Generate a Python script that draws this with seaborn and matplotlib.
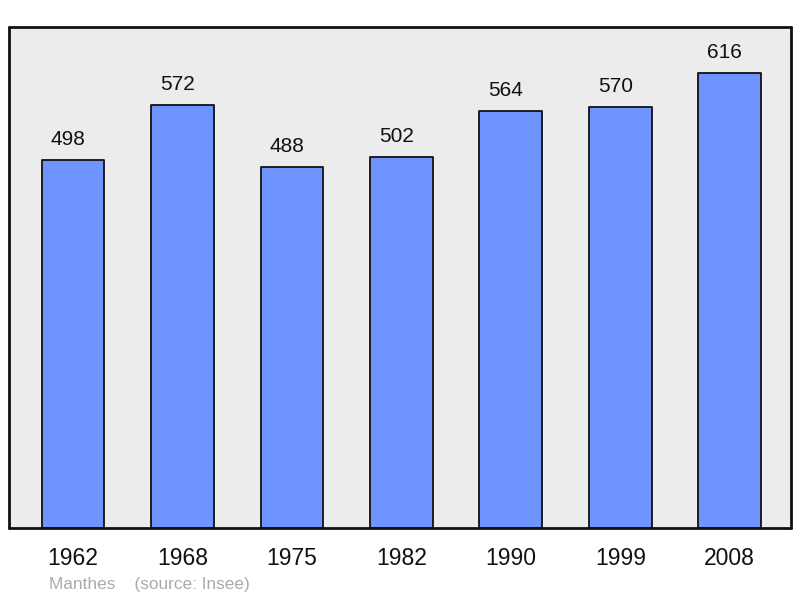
import matplotlib
matplotlib.use("Agg")
import matplotlib.pyplot as plt
import seaborn as sns
import pandas as pd

# Population data (Manthes, source: Insee)
years = ["1962", "1968", "1975", "1982", "1990", "1999", "2008"]
population = [498, 572, 488, 502, 564, 570, 616]

sns.set_theme(style="white")
plt.rcParams['font.family'] = ['Liberation Sans', 'DejaVu Sans']

df = pd.DataFrame({"year": years, "population": population})

fig = plt.figure(figsize=(8, 5.98), dpi=100)
ax = fig.add_axes([9 / 800, 70 / 598, 782 / 800, 501 / 598])
ax.set_facecolor("#ececec")

sns.barplot(data=df, x="year", y="population", color="#7094ff", saturation=1,
            width=0.573, edgecolor="#111111", linewidth=1.3, ax=ax)

for bar in ax.patches:
    bar.set_joinstyle("round")

# value labels sit slightly left of the bar centre, as in the original
for i, v in enumerate(population):
    ax.annotate(str(v), (i, v), xytext=(-3.6, 8), textcoords="offset points",
                ha="center", va="bottom", fontsize=15, color="#111111")

ax.set_xlim(-0.585, 6.56)
ax.set_ylim(0, 678)
ax.set_xlabel("")
ax.set_ylabel("")
ax.set_yticks([])
ax.tick_params(axis="x", length=0, pad=14, labelsize=16.5, labelcolor="#111111")

for side in ["top", "bottom", "left", "right"]:
    ax.spines[side].set_visible(True)
    ax.spines[side].set_color("#111111")
    ax.spines[side].set_linewidth(2)
    ax.spines[side].set_joinstyle("round")
    ax.spines[side].set_capstyle("round")

fig.text(49 / 800, 1 - 584 / 598, "Manthes    (source: Insee)", fontsize=12.4,
         color="#aaaaaa", ha="left", va="center")

fig.savefig("out.png", dpi=100)
plt.close(fig)
